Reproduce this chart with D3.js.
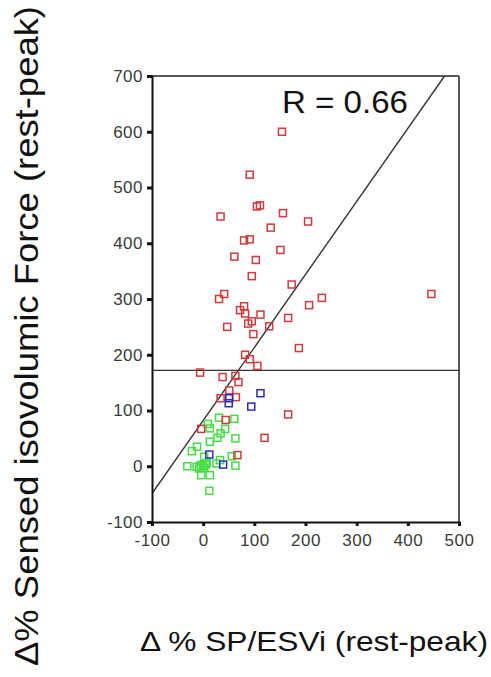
<!DOCTYPE html>
<html>
<head>
<meta charset="utf-8">
<script src="https://cdn.jsdelivr.net/npm/d3@7/dist/d3.min.js"></script>
<style>
  html, body { margin: 0; padding: 0; background: #fff; }
  svg { display: block; }
  text { font-family: "Liberation Sans", Arial, Helvetica, sans-serif; }
</style>
</head>
<body>
<svg id="chart" width="491" height="677"></svg>
<script>
// ---- data ----
const xTicks = [-100, 0, 100, 200, 300, 400, 500];
const yTicks = [-100, 0, 100, 200, 300, 400, 500, 600, 700];

const redX = [154, 91, 105, 111, 34, 156, 205, 132, 80, 91, 151, 61, 103, 95, 173, 41, 31, 232, 207, 80, 72, 82, 112, 166, 47, 88, 95, 129, 98, 446, 187, 82, 91, 106, -6, 38, 63, 69, 51, 34, 64, 44, -4, 166, 120, 67];
const redY = [600, 523, 466, 468, 448, 454, 439, 428, 405, 407, 388, 376, 370, 341, 326, 309, 300, 302, 289, 287, 280, 274, 272, 266, 250, 256, 260, 251, 237, 309, 212, 200, 192, 180, 168, 160, 162, 151, 136, 122, 124, 83, 67, 93, 51, 20];

const greenX = [31, 61, 9, 13, 43, 34, 28, 13, 63, -12, -22, 2, 26, 33, 56, 63, -13, -5, 0, 5, -8, 2, 7, -31, -4, 13, 12];
const greenY = [87, 85, 76, 68, 67, 59, 51, 44, 50, 35, 27, 17, 5, 11, 18, 1, -1, 2, 0, 3, -4, -3, 6, 0, -16, -16, -44];

const blueX = [51, 50, 112, 94, 12, 39];
const blueY = [122, 113, 131, 107, 21, 3];

const fitIntercept = 82;
const fitSlope = 1.31;
const cutoffY = 172;
const rLabel = "R = 0.66";
const xTitle = "\u0394 % SP/ESVi (rest-peak)";
const yTitle = "\u0394% Sensed isovolumic Force (rest-peak)";

// ---- layout ----
const svg = d3.select("#chart");
const x = d3.scaleLinear().domain([-100, 500]).range([152, 459]);
const y = d3.scaleLinear().domain([-100, 700]).range([522, 76]);

const plot = svg.append("g");

// frame: top and right
plot.append("line").attr("x1", x(-100)).attr("x2", x(500)).attr("y1", y(700)).attr("y2", y(700))
  .attr("stroke", "#222").attr("stroke-width", 1.5);
plot.append("line").attr("x1", x(500)).attr("x2", x(500)).attr("y1", y(700)).attr("y2", y(-100))
  .attr("stroke", "#555").attr("stroke-width", 2);

// axes (plain hyphen for negatives, as in the reference)
const fmt = d => String(d);
const xAxis = d3.axisBottom(x).tickValues(xTicks).tickSize(4).tickPadding(6).tickFormat(fmt);
const yAxis = d3.axisLeft(y).tickValues(yTicks).tickSize(5).tickPadding(4).tickFormat(fmt);

const gx = svg.append("g").attr("transform", `translate(0,${y(-100)})`).call(xAxis);
const gy = svg.append("g").attr("transform", `translate(${x(-100)},0)`).call(yAxis);

[gx, gy].forEach(g => {
  g.select(".domain").attr("stroke", "#111").attr("stroke-width", 2);
  g.selectAll(".tick line").attr("stroke", "#111").attr("stroke-width", 3);
  g.selectAll(".tick text")
    .attr("fill", "#3a3a3a")
    .style("font-size", "17px")
    .style("letter-spacing", "0.5px")
    .style("font-family", "'Liberation Sans', Arial, sans-serif");
});
gx.selectAll(".tick text").attr("dy", "0.8em");

// clip for reference lines
svg.append("clipPath").attr("id", "clip").append("rect")
  .attr("x", x(-100)).attr("y", y(700)).attr("width", x(500) - x(-100)).attr("height", y(-100) - y(700));

// horizontal cut-off line
plot.append("line")
  .attr("x1", x(-100)).attr("x2", x(500))
  .attr("y1", y(cutoffY)).attr("y2", y(cutoffY))
  .attr("stroke", "#333").attr("stroke-width", 1.4);

// regression line
const fx0 = -100, fx1 = (700 - fitIntercept) / fitSlope;
plot.append("line")
  .attr("clip-path", "url(#clip)")
  .attr("x1", x(fx0)).attr("y1", y(fitIntercept + fitSlope * fx0))
  .attr("x2", x(fx1)).attr("y2", y(fitIntercept + fitSlope * fx1))
  .attr("stroke", "#333").attr("stroke-width", 1.4);

// points
const sz = 7;
function drawSeries(xs, ys, color) {
  const pts = xs.map((v, i) => ({ x: v, y: ys[i] }));
  plot.append("g").selectAll("rect").data(pts).join("rect")
    .attr("x", d => x(d.x) - sz / 2)
    .attr("y", d => y(d.y) - sz / 2)
    .attr("width", sz).attr("height", sz)
    .attr("fill", "none")
    .attr("stroke", color)
    .attr("stroke-width", 1.5);
}
drawSeries(greenX, greenY, "#44dd44");
drawSeries(redX, redY, "#d03a3a");
drawSeries(blueX, blueY, "#2b2bbb");

// R label
svg.append("text")
  .attr("x", 282).attr("y", 113)
  .style("font-size", "31px")
  .attr("textLength", 126).attr("lengthAdjust", "spacingAndGlyphs")
  .attr("fill", "#111")
  .text(rLabel);

// axis titles
svg.append("text")
  .attr("x", 140).attr("y", 651)
  .style("font-size", "28px")
  .attr("textLength", 348).attr("lengthAdjust", "spacingAndGlyphs")
  .attr("fill", "#111")
  .text(xTitle);

svg.append("text")
  .attr("transform", "translate(38,666) rotate(-90)")
  .style("font-size", "33px")
  .attr("textLength", 660).attr("lengthAdjust", "spacingAndGlyphs")
  .attr("fill", "#111")
  .text(yTitle);
</script>
</body>
</html>
